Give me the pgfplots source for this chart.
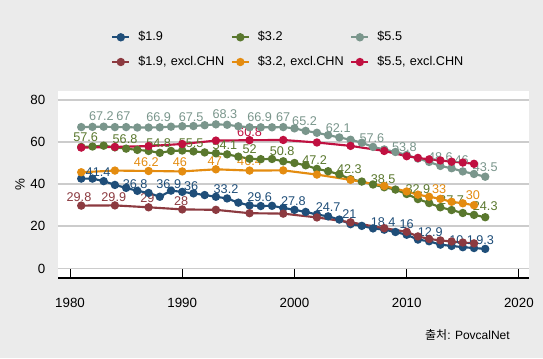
\documentclass[border=0pt]{standalone}
\usepackage{pgfplots}
\pgfplotsset{compat=1.18}
\usepackage{fontspec}
\setmainfont{Liberation Sans}
\newfontfamily\kr{Noto Sans CJK KR}
\definecolor{bg}{RGB}{235,235,235}
\definecolor{gridc}{RGB}{204,204,204}
\definecolor{cA}{RGB}{31,78,121}
\definecolor{cB}{RGB}{90,120,46}
\definecolor{cC}{RGB}{122,150,140}
\definecolor{cD}{RGB}{140,58,64}
\definecolor{cE}{RGB}{228,140,16}
\definecolor{cF}{RGB}{192,16,64}
\newcommand{\lf}{\fontsize{9.5}{11}\selectfont}
\begin{document}
\begin{tikzpicture}
\fill[bg] (0,0) rectangle (407.25pt,268.5pt);
\begin{axis}[
  at={(43.5pt,60pt)}, anchor=south west,
  width=353.25pt, height=140.25pt, scale only axis,
  xmin=1978.93, xmax=2020.9, ymin=-4.5, ymax=84.1,
  axis background/.style={fill=white},
  axis line style={draw=none},
  xtick={1980,1990,2000,2010,2020},
  ytick={0,20,40,60,80},
  xtick pos=left, ytick pos=left,
  major tick length=0pt,
  ytick style={draw=none}, xtick style={draw=none},
  ymajorgrids, grid style={gridc, line width=1.4pt},
  /pgf/number format/assume math mode=true,
  /pgf/number format/1000 sep={},
  ticklabel style={font=\fontsize{10}{12}\selectfont, black},
  x tick label style={yshift=-11.25pt},
  y tick label style={xshift=-6pt},
  ylabel={\%},
  every axis y label/.style={at={(rel axis cs:0,0.497)}, xshift=-28.5pt, rotate=90, anchor=center, font=\fontsize{10}{12}\selectfont},
  legend columns=3,
  legend cell align=left,
  legend style={at={(0.1125,1.319)}, anchor=north west, draw=none, fill=none, inner sep=0pt,
    font=\fontsize{9.5}{11}\selectfont,
    nodes={inner sep=0pt, text width=69.3pt, align=left},
    row sep=10pt,
    /tikz/every odd column/.append style={column sep=6pt},
    /tikz/every even column/.append style={column sep=0pt}},
  legend image code/.code={\draw[mark repeat=2,mark phase=2,#1] plot coordinates {(0pt,0pt) (6.375pt,0pt) (12.75pt,0pt)};},
  every axis plot/.append style={line width=1.6pt, mark=*, mark size=2.3pt, mark options={solid}},
  clip=false,
]
% $1.9 world
\addplot[cA] coordinates {(1981,42.6)(1982,42.6)(1983,41.4)(1984,39.6)(1985,38.2)(1986,36.8)(1987,35.8)(1988,34.0)(1989,36.9)(1990,36.3)(1991,35.6)(1992,34.8)(1993,34.0)(1994,33.2)(1995,31.2)(1996,29.9)(1997,29.6)(1998,29.7)(1999,28.7)(2000,27.8)(2001,26.8)(2002,25.6)(2003,24.7)(2004,23.2)(2005,21.0)(2006,20.2)(2007,19.0)(2008,18.4)(2009,17.3)(2010,16.0)(2011,13.7)(2012,12.9)(2013,11.3)(2014,10.7)(2015,10.1)(2016,9.7)(2017,9.3)};
\addlegendentry{\$1.9}
% $3.2 world
\addplot[cB] coordinates {(1981,57.6)(1982,57.8)(1983,58.2)(1984,57.4)(1985,56.8)(1986,56.2)(1987,55.7)(1988,54.8)(1989,55.7)(1990,55.9)(1991,55.5)(1992,55.0)(1993,54.6)(1994,54.1)(1995,53.0)(1996,52.0)(1997,51.8)(1998,51.9)(1999,50.8)(2000,50.0)(2001,48.9)(2002,47.2)(2003,46.1)(2004,44.6)(2005,42.3)(2006,41.2)(2007,39.8)(2008,38.5)(2009,37.4)(2010,35.3)(2011,32.9)(2012,31.0)(2013,29.0)(2014,27.7)(2015,26.3)(2016,25.4)(2017,24.3)};
\addlegendentry{\$3.2}
% $5.5 world
\addplot[cC] coordinates {(1981,67.0)(1982,67.1)(1983,67.2)(1984,67.0)(1985,67.0)(1986,66.8)(1987,66.8)(1988,66.9)(1989,67.2)(1990,67.4)(1991,67.5)(1992,67.9)(1993,68.3)(1994,68.1)(1995,67.4)(1996,66.9)(1997,66.9)(1998,66.9)(1999,67.0)(2000,66.4)(2001,65.2)(2002,64.3)(2003,63.2)(2004,62.1)(2005,61.0)(2006,59.6)(2007,57.6)(2008,56.4)(2009,55.2)(2010,53.8)(2011,52.1)(2012,50.5)(2013,48.6)(2014,47.5)(2015,46.0)(2016,44.8)(2017,43.5)};
\addlegendentry{\$5.5}
% $1.9 excl CHN
\addplot[cD] coordinates {(1981,29.8)(1984,29.9)(1987,29.0)(1990,28.0)(1993,27.8)(1996,26.2)(1999,26.0)(2002,24.2)(2005,21.9)(2008,19.1)(2010,17.4)(2011,15.2)(2012,14.0)(2013,13.3)(2014,12.8)(2015,12.3)(2016,11.9)};
\addlegendentry{\$1.9, excl.CHN}
% $3.2 excl CHN
\addplot[cE] coordinates {(1981,45.6)(1984,46.4)(1987,46.2)(1990,46.0)(1993,47.0)(1996,46.4)(1999,46.5)(2002,44.5)(2005,42.0)(2008,39.1)(2010,36.5)(2011,35.0)(2012,34.0)(2013,33.0)(2014,31.6)(2015,30.9)(2016,30.0)};
\addlegendentry{\$3.2, excl.CHN}
% $5.5 excl CHN
\addplot[cF] coordinates {(1981,57.3)(1984,57.6)(1987,58.0)(1990,59.0)(1993,60.6)(1996,60.8)(1999,60.9)(2002,59.7)(2005,58.1)(2008,55.7)(2010,53.2)(2011,52.4)(2012,51.7)(2013,51.2)(2014,50.6)(2015,50.2)(2016,49.6)};
\addlegendentry{\$5.5, excl.CHN}
% value labels
\begin{scope}[every node/.style={font=\lf, inner sep=0pt}]
% $5.5 world
\node[text=cC] at (axis cs:1982.8,72.4) {67.2};
\node[text=cC] at (axis cs:1984.75,72.4) {67};
\node[text=cC] at (axis cs:1987.9,71.7) {66.9};
\node[text=cC] at (axis cs:1990.8,71.9) {67.5};
\node[text=cC] at (axis cs:1993.8,73.2) {68.3};
\node[text=cC] at (axis cs:1996.9,71.7) {66.9};
\node[text=cC] at (axis cs:1999.0,71.7) {67};
\node[text=cC] at (axis cs:2000.9,70.0) {65.2};
\node[text=cC] at (axis cs:2003.9,66.4) {62.1};
\node[text=cC] at (axis cs:2006.9,62.0) {57.6};
\node[text=cC] at (axis cs:2009.8,57.7) {53.8};
\node[text=cC] at (axis cs:2013.0,53.0) {48.6};
\node[text=cC] at (axis cs:2014.9,51.4) {46};
\node[text=cC] at (axis cs:2017.0,48.0) {43.5};
% $5.5 excl
\node[text=cF] at (axis cs:1996.0,64.8) {60.8};
% $3.2 world
\node[text=cB] at (axis cs:1981.4,62.2) {57.6};
\node[text=cB] at (axis cs:1984.9,61.2) {56.8};
\node[text=cB] at (axis cs:1987.9,59.6) {54.8};
\node[text=cB] at (axis cs:1990.8,59.6) {55.5};
\node[text=cB] at (axis cs:1993.8,58.5) {54.1};
\node[text=cE] at (axis cs:1996.0,50.9) {46.4};
\node[text=cB] at (axis cs:1996.0,56.5) {52};
\node[text=cB] at (axis cs:1998.9,55.4) {50.8};
\node[text=cB] at (axis cs:2001.8,51.4) {47.2};
\node[text=cB] at (axis cs:2004.9,47.2) {42.3};
\node[text=cB] at (axis cs:2007.9,42.3) {38.5};
\node[text=cB] at (axis cs:2011.0,37.5) {32.9};
\node[text=cB] at (axis cs:2014.0,32.4) {27.7};
\node[text=cB] at (axis cs:2017.0,29.6) {24.3};
% $3.2 excl
\node[text=cE] at (axis cs:1986.8,50.6) {46.2};
\node[text=cE] at (axis cs:1989.8,50.6) {46};
\node[text=cE] at (axis cs:1992.9,50.9) {47};
\node[text=cE] at (axis cs:2012.9,37.5) {33};
\node[text=cE] at (axis cs:2015.9,34.6) {30};
% $1.9 world
\node[text=cA] at (axis cs:1982.5,45.6) {41.4};
\node[text=cA] at (axis cs:1985.8,39.9) {36.8};
\node[text=cA] at (axis cs:1988.8,39.9) {36.9};
\node[text=cA] at (axis cs:1990.8,39.1) {36};
\node[text=cA] at (axis cs:1993.9,37.5) {33.2};
\node[text=cA] at (axis cs:1996.9,33.7) {29.6};
\node[text=cA] at (axis cs:1999.9,32.1) {27.8};
\node[text=cA] at (axis cs:2003.0,29.0) {24.7};
\node[text=cA] at (axis cs:2004.9,25.8) {21};
\node[text=cA] at (axis cs:2007.9,22.2) {18.4};
\node[text=cA] at (axis cs:2010.0,21.0) {16};
\node[text=cA] at (axis cs:2012.1,17.4) {12.9};
\node[text=cA] at (axis cs:2014.9,13.5) {10.1};
\node[text=cA] at (axis cs:2017.0,13.5) {9.3};
% $1.9 excl
\node[text=cD] at (axis cs:1980.8,34.0) {29.8};
\node[text=cD] at (axis cs:1983.9,34.0) {29.9};
\node[text=cD] at (axis cs:1986.9,33.3) {29};
\node[text=cD] at (axis cs:1989.9,32.1) {28};
\end{scope}
\end{axis}
% bottom axis line and inward ticks
\draw[black,line width=0.8pt] (43.5pt,60pt) -- (396.75pt,60pt);
\foreach \yr in {1980,1990,2000,2010,2020}{
  \pgfmathsetmacro{\tx}{43.5+(\yr-1978.93)*353.25/41.97}
  \draw[black,line width=0.75pt] (\tx pt,60pt) -- (\tx pt,66.75pt);
}
\node[anchor=east, font=\fontsize{9}{11}\selectfont, inner sep=0pt] at (382.5pt,17.25pt) {{\kr 출처}: PovcalNet};
\pgfresetboundingbox
\path[use as bounding box] (0,0) rectangle (407.25pt,268.5pt);
\end{tikzpicture}
\end{document}
